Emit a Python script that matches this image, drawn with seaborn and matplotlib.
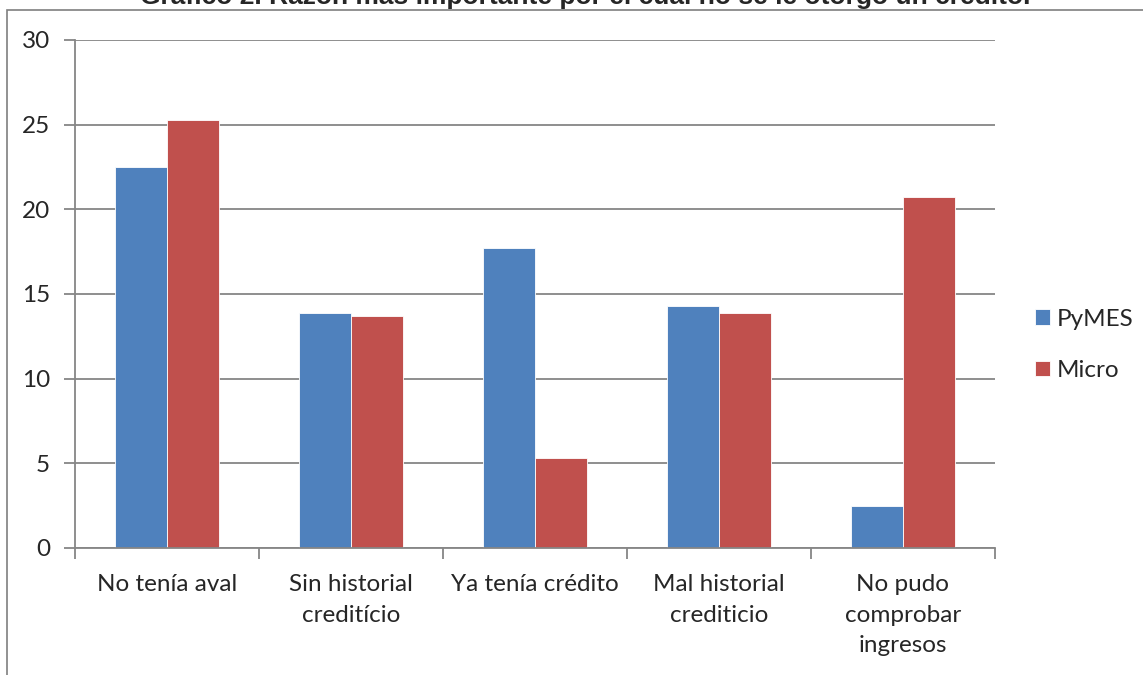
import pandas as pd
import numpy as np
import matplotlib
matplotlib.use('Agg')
import matplotlib.pyplot as plt
import seaborn as sns
from matplotlib.patches import Rectangle

categories = ['No tenía aval', 'Sin historial\ncreditício', 'Ya tenía crédito',
              'Mal historial\ncrediticio', 'No pudo\ncomprobar\ningresos']
series = ['PyMES', 'Micro']
pymes = [22.5, 13.9, 17.7, 14.3, 2.5]
micro = [25.3, 13.7, 5.3, 13.9, 20.7]
colors = ['#4F81BD', '#C0504D']

df = pd.DataFrame({
    'cat': categories * 2,
    'serie': ['PyMES'] * 5 + ['Micro'] * 5,
    'valor': pymes + micro,
})

sns.set_theme(style='white')
plt.rcParams['font.family'] = ['Lato', 'DejaVu Sans']

fig = plt.figure(figsize=(11.43, 6.75), dpi=100)
ax = fig.add_axes([75 / 1143, 1 - 548 / 675, 920 / 1143, 508 / 675])

sns.barplot(data=df, x='cat', y='valor', hue='serie', hue_order=series,
            palette=colors, width=0.565, saturation=1, ax=ax, legend=True,
            edgecolor='white', linewidth=0.6)

grid_c = '#868686'
fs = 17.5
ax.set_ylim(0, 30)
ax.set_xlim(-0.5, 4.5)
ax.set_yticks(range(0, 31, 5))
ax.yaxis.grid(True, color=grid_c, linewidth=1.3)
ax.set_axisbelow(True)
for side in ['top', 'right']:
    ax.spines[side].set_visible(False)
for side in ['left', 'bottom']:
    ax.spines[side].set_color(grid_c)
    ax.spines[side].set_linewidth(1.3)

ax.set_xlabel('')
ax.set_ylabel('')
ax.tick_params(axis='y', which='major', length=8, width=1.3, color=grid_c,
               direction='out', labelsize=fs, pad=10, left=True)
ax.tick_params(axis='x', which='major', length=0, labelsize=fs, pad=19)
ax.set_xticks(np.arange(-0.5, 5, 1), minor=True)
ax.tick_params(axis='x', which='minor', length=8, width=1.3, color=grid_c,
               direction='out', bottom=True)
for lbl in ax.get_xticklabels():
    lbl.set_linespacing(1.55)

leg = ax.legend(loc='center left', bbox_to_anchor=(1.02, 0.40), frameon=False,
                fontsize=fs, handlelength=0.6, handleheight=0.6,
                handletextpad=0.3, labelspacing=1.25)

# outer chart frame
fig.patches.append(Rectangle((7 / 1143, -0.1), 1.2, 1 - 10 / 675 + 0.1,
                             transform=fig.transFigure, fill=False,
                             edgecolor='#7f7f7f', linewidth=1.2))

# title sits partly above the top edge, as in the original
fig.text(585 / 1143, 1 - 4 / 675,
         'Gráfico 2. Razón más importante por el cual no se le otorgó un crédito.',
         ha='center', va='baseline', fontsize=19, fontweight='bold',
         family=['Liberation Sans', 'DejaVu Sans'])

fig.savefig('out.png', dpi=100)
